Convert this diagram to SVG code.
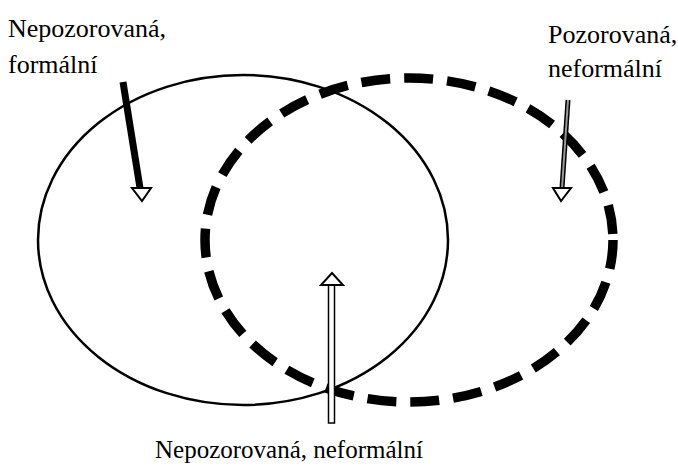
<svg xmlns="http://www.w3.org/2000/svg" width="678" height="468" viewBox="0 0 678 468">
<style>
.t{font-family:"Liberation Serif","Times New Roman",serif;font-size:26px;fill:#000}
.b{font-size:25px}
.solid{fill:none;stroke:#000;stroke-width:2.5}
.dash{fill:none;stroke:#000;stroke-width:9.5;stroke-dasharray:29 14}
.head{fill:#fff;stroke:#000;stroke-width:2;stroke-linejoin:miter}
</style>
<rect width="678" height="468" fill="#fff"/>
<g id="formal-set">
<ellipse class="solid" cx="243" cy="240" rx="205" ry="165"/>
</g>
<g id="observed-set">
<ellipse class="dash" cx="409" cy="240" rx="204" ry="162"/>
</g>
<g id="label-unobserved-formal">
<text class="t" x="8" y="37">Nepozorovaná,</text>
<text class="t" x="8" y="73">formální</text>
</g>
<g id="label-observed-informal">
<text class="t" x="548" y="43">Pozorovaná,</text>
<text class="t" x="548" y="77">neformální</text>
</g>
<g id="label-unobserved-informal">
<text class="t b" x="155" y="458">Nepozorovaná, neformální</text>
</g>
<g id="connectors">
<line x1="123" y1="82" x2="140" y2="188" stroke="#000" stroke-width="7"/>
<polygon class="head" points="132,188 151,188 142,201"/>
<line x1="568" y1="100" x2="562" y2="188" stroke="#000" stroke-width="5"/>
<line x1="568" y1="100" x2="562" y2="188" stroke="#999" stroke-width="2"/>
<polygon class="head" points="553,188 571,188 561,201"/>
<rect x="328.5" y="285" width="6" height="138" fill="#fff" stroke="#000" stroke-width="1.5"/>
<polygon class="head" points="321,285 343,285 332,273"/>
</g>
</svg>
